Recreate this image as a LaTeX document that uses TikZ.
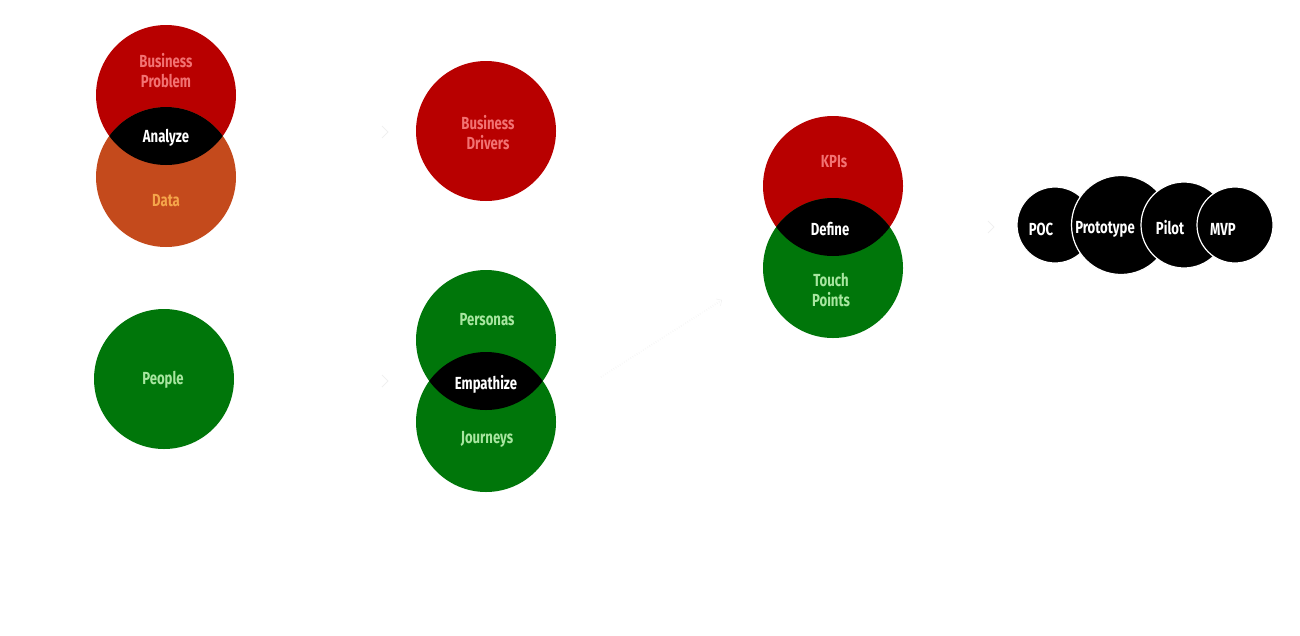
\documentclass[tikz,border=0pt]{standalone}
\usepackage{fontspec}
\setmainfont{Fira Sans}[FakeStretch=0.75]
\usetikzlibrary{arrows.meta}

\definecolor{bizred}{HTML}{B80000}
\definecolor{datared}{HTML}{C44A1C}
\definecolor{pplgreen}{HTML}{00760A}
\definecolor{pinktext}{HTML}{F27272}
\definecolor{orangetext}{HTML}{F5A54A}
\definecolor{greentext}{HTML}{A8E6A0}
\definecolor{faint}{HTML}{F0F0F0}

\begin{document}
\begin{tikzpicture}[x=1pt,y=-1pt]
		\tikzstyle{every node}+=[inner sep=0pt]
		\tikzstyle{bigcircle}=[circle, minimum size=140pt]
		\tikzstyle{stagecircle}=[circle, fill=black, draw=white, line width=1.2pt]
		\tikzstyle{lbl}=[font=\bfseries\fontsize{17.5}{20}\selectfont, align=center]
		\tikzstyle{chevron}=[draw=faint, line width=0.8pt]
		\useasboundingbox (0,0) rectangle (1300,635);
		% analyze
		\node [bigcircle, fill=bizred] (problem) at (166,95) {};
		\node [bigcircle, fill=datared] (data) at (166,177) {};
		\begin{scope}
			\clip (problem.center) circle (70pt);
			\fill [black] (data.center) circle (70pt);
		\end{scope}
		\node [lbl, text=pinktext] (problemtext) at (166,71) {Business\\Problem};
		\node [lbl, text=orangetext] (datatext) at (166,201) {Data};
		\node [lbl, text=white] (analyze) at (166,138) {Analyze};
		% people
		\node [bigcircle, fill=pplgreen] (people) at (164,379) {};
		\node [lbl, text=greentext] (peopletext) at (163,380) {People};
		% drivers
		\node [bigcircle, fill=bizred] (drivers) at (486,131) {};
		\node [lbl, text=pinktext] (driverstext) at (488,133) {Business\\Drivers};
		% empathize
		\node [bigcircle, fill=pplgreen] (personas) at (486,340) {};
		\node [bigcircle, fill=pplgreen] (journeys) at (486,422) {};
		\begin{scope}
			\clip (personas.center) circle (70pt);
			\fill [black] (journeys.center) circle (70pt);
		\end{scope}
		\node [lbl, text=greentext] (personastext) at (487,320) {Personas};
		\node [lbl, text=greentext] (journeystext) at (487,439) {Journeys};
		\node [lbl, text=white] (empathize) at (486,384) {Empathize};
		% define
		\node [bigcircle, fill=bizred] (kpis) at (833,186) {};
		\node [bigcircle, fill=pplgreen] (touch) at (833,268) {};
		\begin{scope}
			\clip (kpis.center) circle (70pt);
			\fill [black] (touch.center) circle (70pt);
		\end{scope}
		\node [lbl, text=pinktext] (kpistext) at (834,162) {KPIs};
		\node [lbl, text=greentext] (touchtext) at (831,290) {Touch\\Points};
		\node [lbl, text=white] (define) at (830,229) {Define};
		% stages
		\node [stagecircle, minimum size=76pt] (poc) at (1055,225) {};
		\node [stagecircle, minimum size=99pt] (proto) at (1121,225) {};
		\node [stagecircle, minimum size=86pt] (pilot) at (1184,225) {};
		\node [stagecircle, minimum size=76pt] (mvp) at (1235,225) {};
		\node [lbl, text=white] (poctext) at (1041,229) {POC};
		\node [lbl, text=white] (prototext) at (1105,229) {Prototype};
		\node [lbl, text=white] (pilottext) at (1170,228) {Pilot};
		\node [lbl, text=white] (mvptext) at (1223,229) {MVP};
		% faint arrows
		\coordinate (a1) at (386,132);
		\coordinate (a2) at (386,381);
		\coordinate (a3) at (992,227);
		\foreach \c in {a1,a2,a3}
			\draw [chevron] ([xshift=-4pt,yshift=-6pt]\c) -- ([xshift=2pt]\c) -- ([xshift=-4pt,yshift=6pt]\c);
		\coordinate (dstart) at (601,377);
		\coordinate (dend) at (722,300);
		\draw [faint, dotted, double, line width=0.5pt, -{Straight Barb[length=4pt]}] (dstart) -- (dend);
\end{tikzpicture}
\end{document}
